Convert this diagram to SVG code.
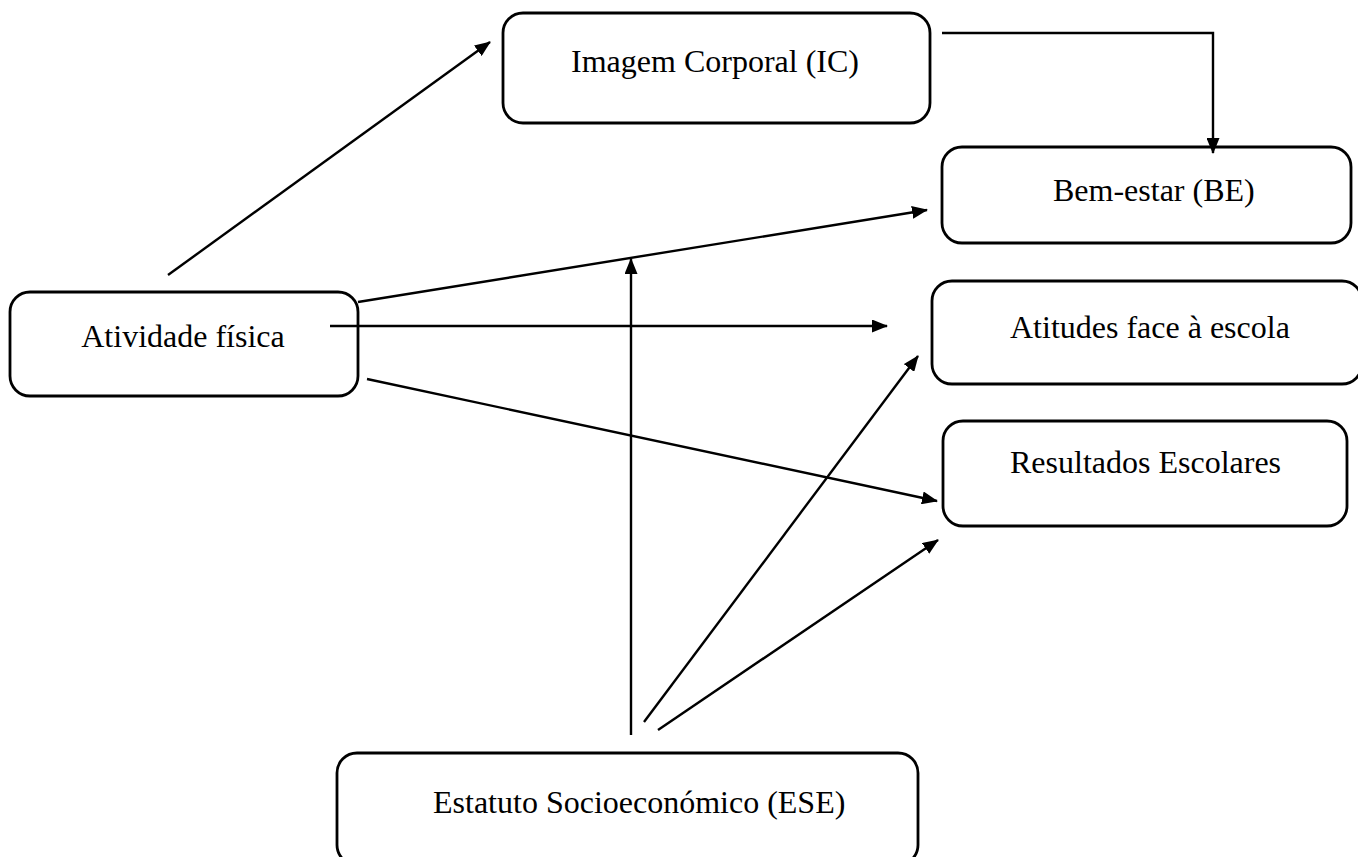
<svg xmlns="http://www.w3.org/2000/svg" width="1358" height="857" viewBox="0 0 1358 857">
<defs>
<marker id="arr" markerWidth="16" markerHeight="13" refX="15" refY="6.5" orient="auto" markerUnits="userSpaceOnUse">
<path d="M0,0 L16,6.5 L0,13 Z" fill="#000"/>
</marker>
</defs>
<style>
.box{fill:#fff;stroke:#000;stroke-width:2.8}
.lbl{font-family:"Liberation Serif","Times New Roman",serif;font-size:32px;fill:#000}
.con line,.con path{stroke:#000;stroke-width:2.4;fill:none;marker-end:url(#arr)}
</style>
<rect width="1358" height="857" fill="#fff"/>
<g id="n-ic"><rect class="box" x="503" y="13" width="427" height="110" rx="20"/><text class="lbl" x="715" y="72" text-anchor="middle">Imagem Corporal (IC)</text></g>
<g id="n-be"><rect class="box" x="942" y="147" width="409" height="96" rx="20"/><text class="lbl" x="1053" y="201">Bem-estar (BE)</text></g>
<g id="n-af"><rect class="box" x="10" y="292" width="348" height="104" rx="20"/><text class="lbl" x="183" y="347" text-anchor="middle">Atividade física</text></g>
<g id="n-at"><rect class="box" x="932" y="281" width="430" height="103" rx="20"/><text class="lbl" x="1010" y="338">Atitudes face à escola</text></g>
<g id="n-re"><rect class="box" x="943" y="421" width="404" height="105" rx="20"/><text class="lbl" x="1010" y="473">Resultados Escolares</text></g>
<g id="n-ese"><rect class="box" x="337" y="753" width="581" height="112" rx="20"/><text class="lbl" x="433" y="813">Estatuto Socioeconómico (ESE)</text></g>
<g id="connectors" class="con">
<line x1="168" y1="275" x2="490" y2="42"/>
<path d="M942,33 H1213 V153"/>
<line x1="358" y1="302" x2="927" y2="210"/>
<line x1="330" y1="326" x2="887" y2="326"/>
<line x1="367" y1="379" x2="937" y2="501"/>
<line x1="631" y1="735" x2="631" y2="259"/>
<line x1="644" y1="722" x2="918" y2="356"/>
<line x1="658" y1="730" x2="938" y2="540"/>
</g>
</svg>
